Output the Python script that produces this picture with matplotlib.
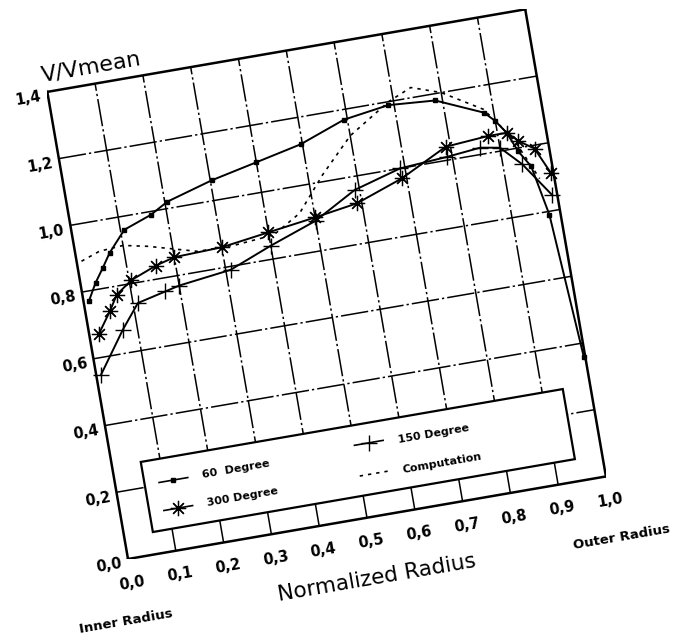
import matplotlib
matplotlib.use("Agg")
import matplotlib.pyplot as plt
from matplotlib.transforms import Affine2D
from matplotlib.patches import Rectangle
import mpl_toolkits.axisartist.floating_axes as floating_axes

r_60 = [0.011, 0.031, 0.051, 0.070, 0.108, 0.167, 0.205, 0.303, 0.400, 0.496,
        0.593, 0.688, 0.785, 0.880, 0.900, 0.919, 0.936, 0.957, 0.977, 0.997]
v_60 = [0.77, 0.82, 0.86, 0.90, 0.96, 0.99, 1.02, 1.06, 1.09, 1.12,
        1.17, 1.19, 1.18, 1.12, 1.09, 1.05, 0.99, 0.94, 0.79, 0.36]

r_300 = [0.02, 0.05, 0.07, 0.105, 0.16, 0.20, 0.30, 0.40, 0.50, 0.59,
         0.69, 0.79, 0.88, 0.92, 0.94, 0.97, 0.995]
v_300 = [0.67, 0.73, 0.775, 0.81, 0.84, 0.855, 0.86, 0.88, 0.90, 0.92,
         0.97, 1.04, 1.05, 1.05, 1.02, 0.99, 0.91]

r_150 = [0.01, 0.07, 0.11, 0.17, 0.20, 0.31, 0.40, 0.50, 0.59, 0.69,
         0.79, 0.86, 0.90, 0.94, 0.99]
v_150 = [0.55, 0.67, 0.74, 0.76, 0.77, 0.79, 0.84, 0.89, 0.96, 1.00,
         1.01, 1.02, 1.01, 0.95, 0.845]

r_comp = [0.01, 0.05, 0.10, 0.15, 0.25, 0.33, 0.41, 0.47, 0.53, 0.60,
          0.69, 0.74, 0.80, 0.88, 0.93, 0.97]
v_comp = [0.89, 0.91, 0.915, 0.90, 0.86, 0.86, 0.87, 0.92, 1.02, 1.12,
          1.20, 1.23, 1.20, 1.13, 1.03, 0.90]

x_ticks = [0.0, 0.1, 0.2, 0.3, 0.4, 0.5, 0.6, 0.7, 0.8, 0.9, 1.0]
x_labels = ["0,0", "0,1", "0,2", "0,3", "0,4", "0,5", "0,6", "0,7", "0,8", "0,9", "1,0"]
y_ticks = [0.0, 0.2, 0.4, 0.6, 0.8, 1.0, 1.2, 1.4]
y_labels = ["0,0", "0,2", "0,4", "0,6", "0,8", "1,0", "1,2", "1,4"]

XMAX, YMAX = 1.0, 1.4
ANGLE = 9.8            # page is tilted on the scan
SX, SY = 485.0, 338.6  # pixels per data unit
ORIGIN = (128, 84)     # pixel position of (0, 0), from bottom-left
W, H = 700, 643

fig = plt.figure(figsize=(W / 100, H / 100), dpi=100)
tr = Affine2D().scale(SX, SY).rotate_deg(ANGLE)
helper = floating_axes.GridHelperCurveLinear(tr, extremes=(0, XMAX, 0, YMAX))
ax = fig.add_axes([0, 0, 1, 1], axes_class=floating_axes.FloatingAxes, grid_helper=helper)

corners = tr.transform([[0, 0], [XMAX, 0], [0, YMAX], [XMAX, YMAX]])
x0, y0 = corners.min(axis=0)
x1, y1 = corners.max(axis=0)
ax.set_xlim(x0, x1)
ax.set_ylim(y0, y1)
ax.set_position([(ORIGIN[0] + x0) / W, (ORIGIN[1] + y0) / H, (x1 - x0) / W, (y1 - y0) / H])

for side in ["left", "right", "top", "bottom"]:
    ax.axis[side].major_ticks.set_visible(False)
    ax.axis[side].major_ticklabels.set_visible(False)
    ax.axis[side].line.set_linewidth(1.8)

aux = ax.get_aux_axes(tr)

grid_ls = (0, (18, 2, 1.5, 2))
for xv in x_ticks[1:-1]:
    aux.plot([xv, xv], [0, YMAX], color="k", lw=1.1, ls=grid_ls, zorder=1)
for yv in y_ticks[1:-1]:
    aux.plot([0, XMAX], [yv, yv], color="k", lw=1.1, ls=grid_ls, zorder=1)

aux.plot(r_60, v_60, color="k", lw=1.4, marker="s", ms=3.5, zorder=3)
aux.plot(r_300, v_300, color="k", lw=1.4, marker=(8, 2, 0), ms=11, mew=0.9, zorder=3)
aux.plot(r_150, v_150, color="k", lw=1.4, marker="+", ms=12, mew=1.0, zorder=3)
aux.plot(r_comp, v_comp, color="k", lw=1.2, ls=(0, (2, 3)), zorder=3)

# legend box, drawn tilted with the page
LEG = (0.06, 0.066, 0.943, 0.276)
aux.add_patch(Rectangle((LEG[0], LEG[1]), LEG[2] - LEG[0], LEG[3] - LEG[1],
                        fc="white", ec="k", lw=1.6, zorder=4))
txt = dict(rotation=ANGLE, rotation_mode="anchor", ha="left", va="center",
           fontsize=8, fontweight="bold", zorder=6)
aux.plot([0.09, 0.12, 0.15], [0.207] * 3, color="k", lw=1.2, marker="s",
         ms=3.5, markevery=[1], zorder=5)
aux.text(0.18, 0.207, "60  Degree", **txt)
aux.plot([0.09, 0.12, 0.15], [0.123] * 3, color="k", lw=1.2, marker=(8, 2, 0),
         ms=11, mew=0.9, markevery=[1], zorder=5)
aux.text(0.18, 0.123, "300 Degree", **txt)
aux.plot([0.50, 0.53, 0.56], [0.217] * 3, color="k", lw=1.2, marker="+",
         ms=12, mew=1.0, markevery=[1], zorder=5)
aux.text(0.59, 0.21, "150 Degree", **txt)
aux.plot([0.50, 0.56], [0.125] * 2, color="k", lw=1.2, ls=(0, (2, 3)), zorder=5)
aux.text(0.59, 0.12, "Computation", **txt)

tick = dict(rotation=ANGLE, rotation_mode="anchor", fontsize=10.5, fontweight="bold")
for yv, lab in zip(y_ticks, y_labels):
    aux.text(-0.014, yv - 0.01, lab, ha="right", va="center", **tick)
for xv, lab in zip(x_ticks, x_labels):
    aux.text(xv, -0.072, lab, ha="center", va="center", **tick)

aux.text(-0.005, 1.45, "V/Vmean", ha="left", va="center", rotation=ANGLE,
         rotation_mode="anchor", fontsize=16)
aux.text(0.50, -0.18, "Normalized Radius", ha="center", va="center", rotation=ANGLE,
         rotation_mode="anchor", fontsize=15.5)
aux.text(-0.026, -0.18, "Inner Radius", ha="center", va="center", rotation=ANGLE,
         rotation_mode="anchor", fontsize=9.5, fontweight="bold")
aux.text(1.01, -0.184, "Outer Radius", ha="center", va="center", rotation=ANGLE,
         rotation_mode="anchor", fontsize=9.5, fontweight="bold")

fig.savefig("out.png", dpi=100, facecolor="white")
